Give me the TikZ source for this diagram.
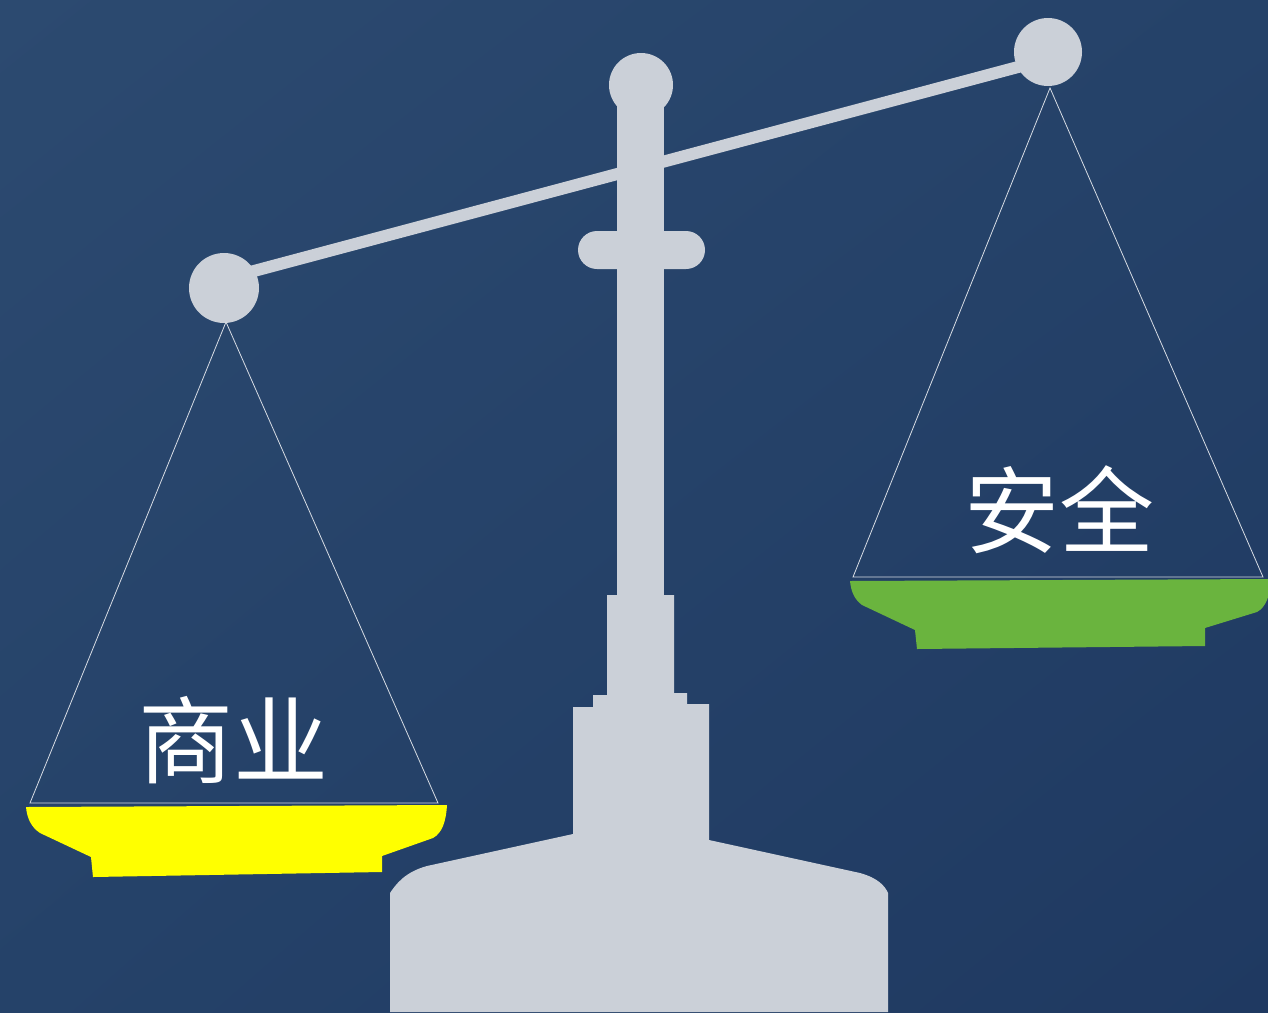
\documentclass[tikz,border=0pt]{standalone}
\usepackage{fontspec}
\usetikzlibrary{shadings}
\newfontfamily\cjk{Noto Sans CJK SC}

\definecolor{bgtop}{RGB}{44,74,112}
\definecolor{bgmid}{RGB}{37,66,105}
\definecolor{bgbot}{RGB}{31,57,97}
\definecolor{scalegray}{RGB}{203,208,216}
\definecolor{cordgray}{RGB}{215,220,228}
\definecolor{panyellow}{RGB}{255,255,0}
\definecolor{pangreen}{RGB}{106,180,62}

\begin{document}
\begin{tikzpicture}[x=1pt, y=-1pt]
  % Define styles
  \tikzstyle{metal} = [fill=scalegray, draw=none]
  \tikzstyle{beam} = [draw=scalegray, line width=12pt]
  \tikzstyle{cord} = [draw=cordgray, line width=0.8pt, line join=miter]
  \tikzstyle{tag} = [text=white, font=\cjk\fontsize{95}{95}\selectfont, inner sep=0pt]

  % Background
  \shade[upper left=bgtop, upper right=bgmid, lower left=bgmid, lower right=bgbot]
    (0,0) rectangle (1268,1012);
  \useasboundingbox (0,0) rectangle (1268,1012);

  % Hanging points of the pans
  \coordinate (lhang) at (226,322);
  \coordinate (lpanL) at (30,803);
  \coordinate (lpanR) at (438,803);
  \coordinate (rhang) at (1050,88);
  \coordinate (rpanL) at (853,577);
  \coordinate (rpanR) at (1263,577);

  % Beam and its ends
  \draw[beam] (224,279) -- (1048,59);
  \fill[metal] (224,288) circle[radius=35pt];
  \fill[metal] (1048,52) circle[radius=34pt];

  % Column with knob and collar
  \fill[metal] (641,85) circle[radius=32pt];
  \fill[metal] (617,100) rectangle (664,600);
  \fill[metal, rounded corners=19pt] (578,231) rectangle (705,269);

  % Stepped foot
  \fill[metal] (607,595) -- (674,595) -- (674,693) -- (687,693) -- (687,704)
    -- (709,704) -- (709,840) -- (860,873) .. controls (878,878) and (885,886) .. (888,893)
    -- (888,1012) -- (390,1012) -- (390,893) .. controls (396,884) and (405,872) .. (427,866)
    -- (573,834) -- (573,707) -- (593,707) -- (593,695) -- (607,695) -- cycle;

  % Cords
  \draw[cord] (lhang) -- (lpanL) -- (lpanR) -- cycle;
  \draw[cord] (rhang) -- (rpanL) -- (rpanR) -- cycle;

  % Pans
  \fill[panyellow] (26,807) -- (447,805) .. controls (446,822) and (442,833) .. (433,838)
    -- (382,856) -- (382,872) -- (93,877) -- (91,857) -- (40,833)
    .. controls (31,827) and (27,818) .. (26,807) -- cycle;
  \fill[pangreen] (850,581) -- (1271,579) .. controls (1270,596) and (1266,607) .. (1257,612)
    -- (1205,628) -- (1205,646) -- (917,649) -- (915,630) -- (862,605)
    .. controls (854,599) and (851,591) .. (850,581) -- cycle;

  % Labels
  \node[tag] (biz) at (233,740) {商业};
  \node[tag] (safe) at (1059,510) {安全};
\end{tikzpicture}
\end{document}
